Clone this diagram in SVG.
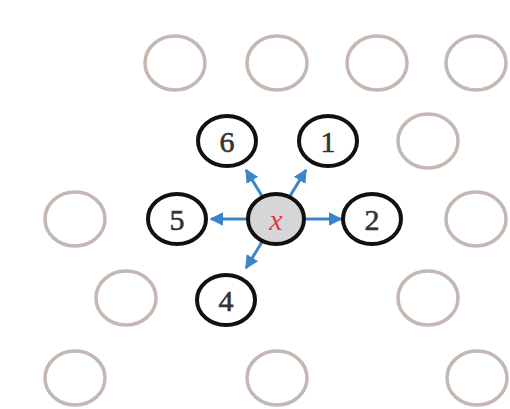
<svg xmlns="http://www.w3.org/2000/svg" width="510" height="409" viewBox="0 0 510 409">
<defs>
<style>
.g{fill:none;stroke:#c4b8b2;stroke-width:3.5}
.b{fill:#fff;stroke:#111;stroke-width:4}
.c{fill:#d6d6d8;stroke:#111;stroke-width:4}
.t{font-family:"Liberation Serif",serif;font-size:30px;fill:#333;stroke:#333;stroke-width:0.6;text-anchor:middle;dominant-baseline:central}
.x{font-family:"Liberation Serif",serif;font-size:30px;font-style:italic;fill:#e0403a;text-anchor:middle;dominant-baseline:central}
.a{stroke:#3a86c8;stroke-width:3;fill:none;marker-end:url(#ah)}
</style>
<marker id="ah" viewBox="0 0 10 10" refX="9" refY="5" markerWidth="4.5" markerHeight="4.5" orient="auto" markerUnits="strokeWidth">
<path d="M0,0 L10,5 L0,10 z" fill="#3a86c8"/>
</marker>
</defs>
<g id="grid">
<ellipse class="g" cx="175" cy="63" rx="30" ry="27"/>
<ellipse class="g" cx="277" cy="63" rx="30" ry="27"/>
<ellipse class="g" cx="377" cy="63" rx="30" ry="27"/>
<ellipse class="g" cx="476" cy="63" rx="30" ry="27"/>
<ellipse class="g" cx="428" cy="141" rx="30" ry="27"/>
<ellipse class="g" cx="75" cy="219" rx="30" ry="27"/>
<ellipse class="g" cx="476" cy="219" rx="30" ry="27"/>
<ellipse class="g" cx="126" cy="298" rx="30" ry="27"/>
<ellipse class="g" cx="428" cy="298" rx="30" ry="27"/>
<ellipse class="g" cx="75" cy="378" rx="30" ry="27"/>
<ellipse class="g" cx="277" cy="378" rx="30" ry="27"/>
<ellipse class="g" cx="477" cy="378" rx="30" ry="27"/>
</g>
<g id="connectors">
<line class="a" x1="305" y1="219" x2="341" y2="219"/>
<line class="a" x1="247" y1="219" x2="211" y2="219"/>
<line class="a" x1="262" y1="196" x2="246" y2="170"/>
<line class="a" x1="290" y1="196" x2="306" y2="170"/>
<line class="a" x1="262" y1="242" x2="246" y2="268"/>
</g>
<g id="n6"><ellipse class="b" cx="227" cy="141" rx="29" ry="25"/><text class="t" x="227" y="141">6</text></g>
<g id="n1"><ellipse class="b" cx="328" cy="141" rx="29" ry="25"/><text class="t" x="328" y="141">1</text></g>
<g id="n5"><ellipse class="b" cx="177" cy="219" rx="29" ry="25"/><text class="t" x="177" y="219">5</text></g>
<g id="nx"><ellipse class="c" cx="276" cy="219" rx="28" ry="25"/><text class="x" x="276" y="219">x</text></g>
<g id="n2"><ellipse class="b" cx="372" cy="219" rx="29" ry="25"/><text class="t" x="372" y="219">2</text></g>
<g id="n4"><ellipse class="b" cx="226" cy="300" rx="29" ry="25"/><text class="t" x="226" y="300">4</text></g>
</svg>
